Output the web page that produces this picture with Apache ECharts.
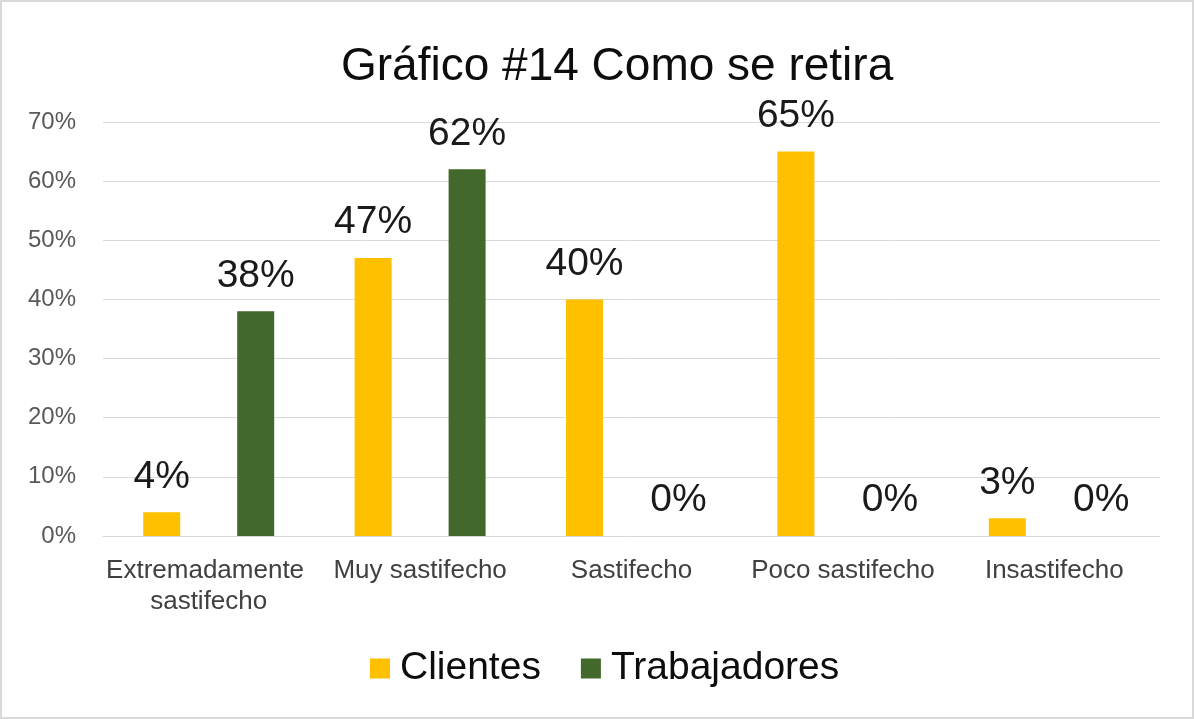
<!DOCTYPE html>
<html>
<head>
<meta charset="utf-8">
<script src="https://cdn.jsdelivr.net/npm/echarts@6/dist/echarts.min.js"></script>
<style>
    html, body { margin: 0; padding: 0; background: #fff; }
    #chart {
        width: 1190px;
        height: 715px;
        border: 2px solid #d9d9d9;
    }
</style>
</head>
<body>
<div id="chart"></div>
<script>
// datos del gráfico
var categories = ['Extremadamente sastifecho', 'Muy sastifecho', 'Sastifecho', 'Poco sastifecho', 'Insastifecho']
var clientes = [4, 47, 40, 65, 3]
var trabajadores = [38, 62, 0, 0, 0]
var yTicks = [0, 10, 20, 30, 40, 50, 60, 70]

var myChart = echarts.init(document.getElementById('chart'))
var fontFamily = 'Liberation Sans, Arial, sans-serif'

var labelStyle = {
    show: true,
    position: 'top',
    distance: 16,
    fontSize: 39,
    color: '#1a1a1a',
    fontFamily: fontFamily,
    formatter: function (p) {
        return p.value + '%'
    }
}

var option = {
    backgroundColor: '#fff',
    animation: false,
    title: {
        text: 'Gráfico #14 Como se retira',
        left: 334,
        top: 37,
        textStyle: {
            fontSize: 46,
            fontWeight: 'normal',
            color: '#0d0d0d',
            fontFamily: fontFamily
        }
    },
    legend: {
        bottom: 24,
        left: 363,
        itemWidth: 20,
        itemHeight: 20,
        itemGap: 40,
        icon: 'rect',
        textStyle: {
            fontSize: 39,
            color: '#0d0d0d',
            fontFamily: fontFamily,
            padding: [0, 0, 0, 5]
        },
        data: ['Clientes', 'Trabajadores']
    },
    grid: {
        left: 101,
        right: 32,
        top: 120,
        bottom: 181,
        containLabel: false
    },
    xAxis: {
        type: 'category',
        data: categories,
        axisTick: { show: false },
        axisLine: { lineStyle: { color: '#d9d9d9', width: 1 } },
        axisLabel: {
            interval: 0,
            margin: 19,
            fontSize: 26,
            lineHeight: 31,
            color: '#404040',
            fontFamily: fontFamily,
            width: 208,
            overflow: 'break'
        }
    },
    yAxis: {
        type: 'value',
        min: yTicks[0],
        max: yTicks[yTicks.length - 1],
        interval: 10,
        axisLine: { show: false },
        axisTick: { show: false },
        splitLine: { lineStyle: { color: '#d9d9d9', width: 1 } },
        axisLabel: {
            margin: 27,
            fontSize: 24,
            color: '#595959',
            fontFamily: fontFamily,
            formatter: '{value}%'
        }
    },
    series: [
        {
            name: 'Clientes',
            type: 'bar',
            barWidth: 37,
            barGap: '154%',
            itemStyle: { color: '#ffc000' },
            label: labelStyle,
            data: clientes
        },
        {
            name: 'Trabajadores',
            type: 'bar',
            barWidth: 37,
            barGap: '154%',
            itemStyle: { color: '#43682b' },
            label: labelStyle,
            data: trabajadores
        }
    ]
}
myChart.setOption(option)
</script>
</body>
</html>
